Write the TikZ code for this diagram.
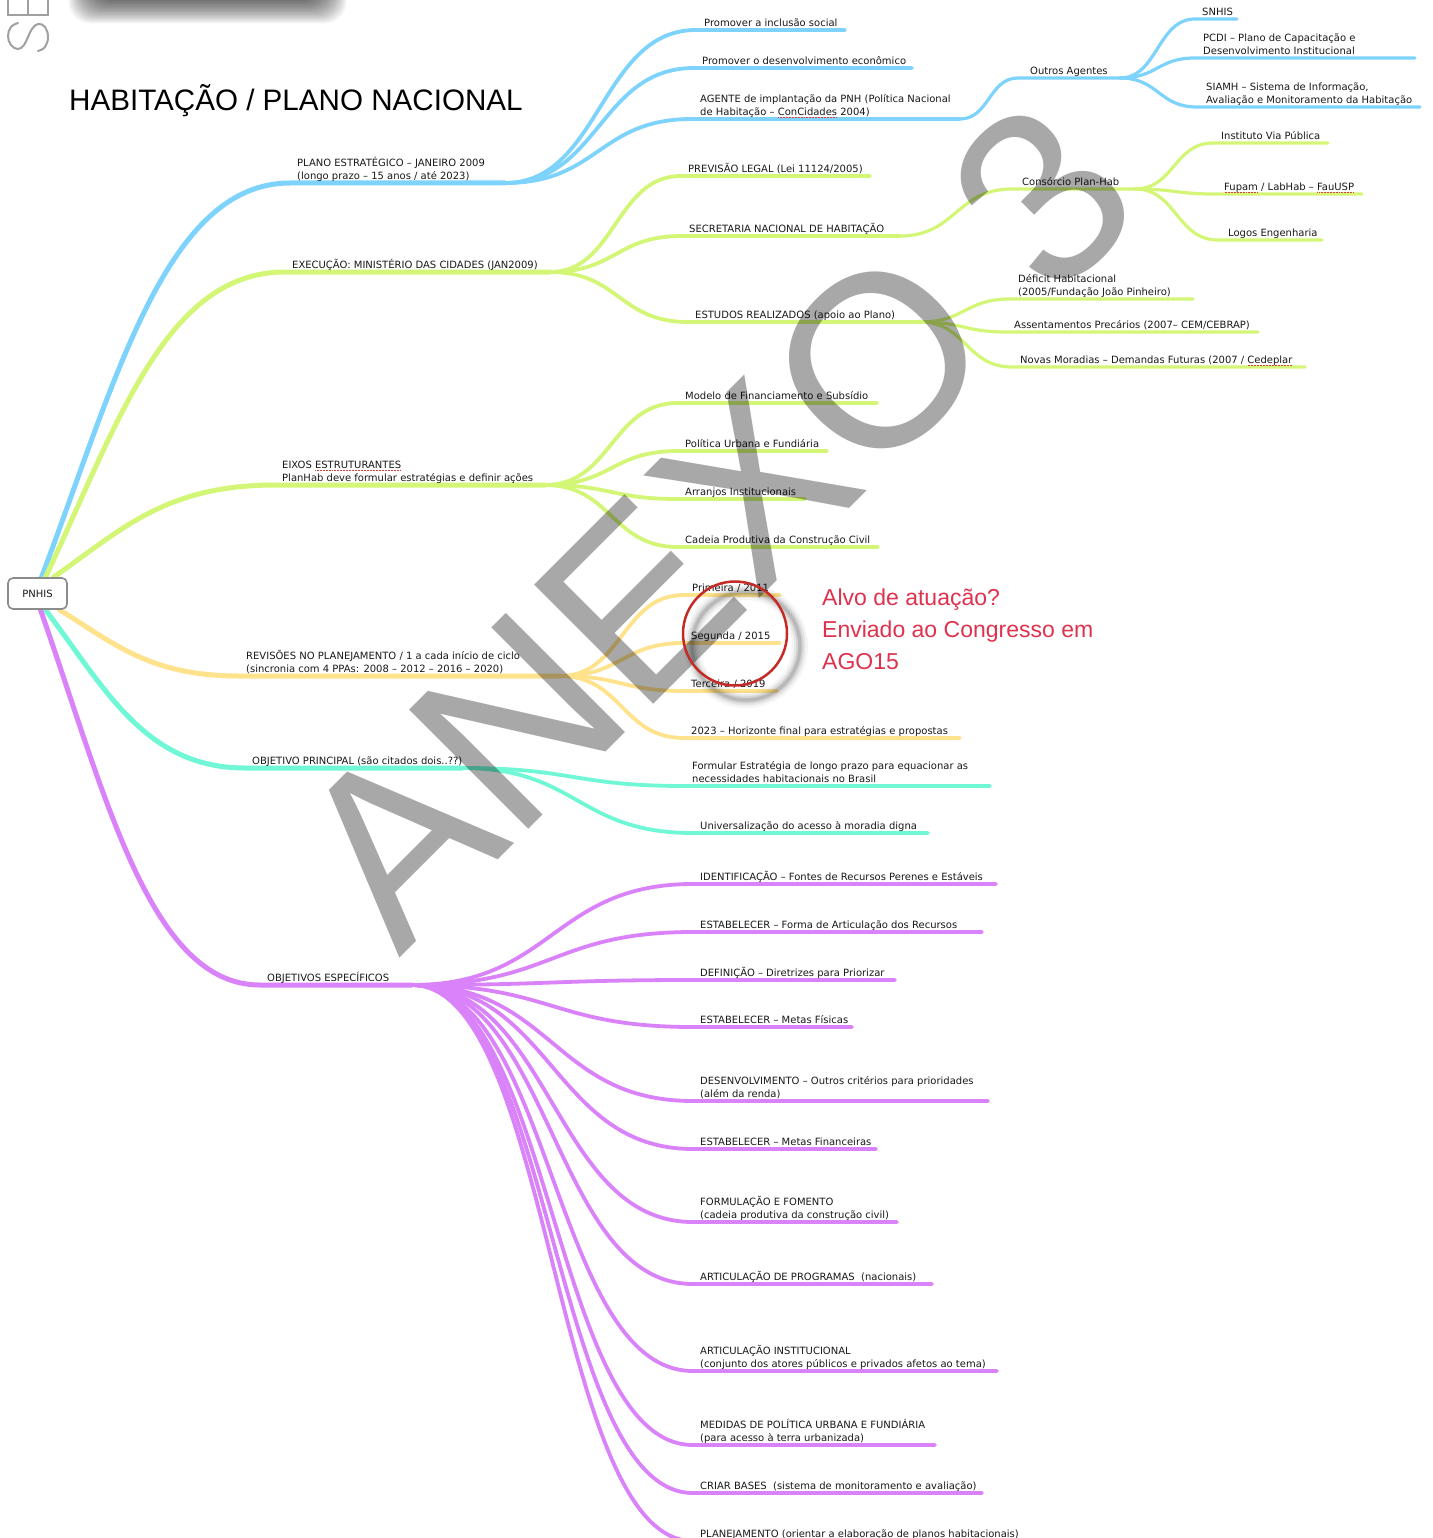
\documentclass[tikz,border=0pt]{standalone}
\usepackage{fontspec}
\setmainfont{DejaVu Sans}
\newfontfamily\helv{Liberation Sans}
\usetikzlibrary{calc,backgrounds}

\definecolor{cblue}{RGB}{125,211,252}
\definecolor{cgreen}{RGB}{212,246,118}
\definecolor{cyellow}{RGB}{255,226,140}
\definecolor{cteal}{RGB}{112,248,214}
\definecolor{cpurple}{RGB}{218,130,250}
\definecolor{ink}{RGB}{25,25,25}
\definecolor{spellred}{RGB}{225,60,60}
\definecolor{notered}{RGB}{222,50,78}
\definecolor{ringred}{RGB}{196,42,38}
\definecolor{framegray}{RGB}{140,140,140}
\definecolor{sidegray}{RGB}{160,160,160}

\newcommand\lblfont{\fontsize{10}{13}\selectfont}

% dotted red mark under a word
\newsavebox\splbox
\newcommand\spl[1]{\sbox\splbox{#1}\leavevmode\rlap{\usebox\splbox}%
  \raisebox{-2.6pt}{\textcolor{spellred}{\hbox to \wd\splbox{\xleaders\hbox to 1.5pt{\hss\rule{0.9pt}{0.9pt}\hss}\hfill}}}}

% topic: name, underline start x, text x, underline end x, underline y, text
\newcommand\mmtopic[6]{%
  \coordinate (#1-a) at (#2,#5);
  \coordinate (#1-b) at (#4,#5);
  \node[lbl] (#1) at (#3,#5+0.3) {#6\strut};}

\begin{document}
\begin{tikzpicture}[x=1pt,y=-1pt,
  lbl/.style={anchor=south west, inner sep=0pt, align=left, font=\lblfont, text=ink},
  rootbox/.style={draw=framegray, line width=1.6pt, fill=white, rounded corners=5pt,
    minimum width=59pt, minimum height=31pt, inner sep=0pt, font=\lblfont, text=ink},
  lv1/.style={line width=5pt, line cap=round},
  lv2/.style={line width=3.8pt, line cap=round},
  lv3/.style={line width=3.2pt, line cap=round},
  sbend/.style={to path={let \p1=(\tikztostart), \p2=(\tikztotarget) in
    .. controls ({(\x1+\x2)/2},\y1) and ({(\x1+\x2)/2},\y2) .. (\tikztotarget)}},
  rbend/.style={to path={let \p1=(\tikztostart), \p2=(\tikztotarget) in
    .. controls ({\x1+0.3*(\x2-\x1)},{\y1+0.5*(\y2-\y1)}) and ({(\x1+\x2)/2},\y2) .. (\tikztotarget)}}
]
\useasboundingbox (0,0) rectangle (1432,1538);

% central node and title
\node[rootbox] (root) at (37.5,593.5) {PNHIS};
\node[anchor=base west, inner sep=0pt, font=\helv\fontsize{29.6}{29.6}\selectfont, text=black]
  (title) at (69,111) {HABITAÇÃO / PLANO NACIONAL};

% strategic plan
\mmtopic{ps}{290}{297}{505}{183}{PLANO ESTRATÉGICO – JANEIRO 2009\\(longo prazo – 15 anos / até 2023)}
\mmtopic{inc}{696}{704}{845}{30}{Promover a inclusão social}
\mmtopic{dev}{694}{702}{912}{68}{Promover o desenvolvimento econômico}
\mmtopic{agt}{692}{700}{960}{119}{AGENTE de implantação da PNH (Política Nacional\\de Habitação – \spl{ConCidades} 2004)}
\mmtopic{out}{1018}{1030}{1120}{78}{Outros Agentes}
\mmtopic{snh}{1195}{1202}{1237}{19}{SNHIS}
\mmtopic{pcd}{1195}{1203}{1415}{58}{PCDI – Plano de Capacitação e\\Desenvolvimento Institucional}
\mmtopic{sia}{1197}{1206}{1420}{107}{SIAMH – Sistema de Informação,\\Avaliação e Monitoramento da Habitação}

% execution
\mmtopic{exe}{285}{292}{550}{272}{EXECUÇÃO: MINISTÉRIO DAS CIDADES (JAN2009)}
\mmtopic{prev}{681}{688}{870}{176}{PREVISÃO LEGAL (Lei 11124/2005)}
\mmtopic{sec}{682}{689}{900}{236}{SECRETARIA NACIONAL DE HABITAÇÃO}
\mmtopic{cons}{1012}{1022}{1135}{189}{Consórcio Plan-Hab}
\mmtopic{ivp}{1213}{1221}{1328}{143}{Instituto Via Pública}
\mmtopic{fup}{1215}{1224}{1362}{194}{\spl{Fupam} / LabHab – \spl{FauUSP}}
\mmtopic{logo}{1218}{1228}{1322}{240}{Logos Engenharia}
\mmtopic{est}{688}{695}{920}{322}{ESTUDOS REALIZADOS (apoio ao Plano)}
\mmtopic{dfc}{1010}{1018}{1193}{299}{Déficit Habitacional\\(2005/Fundação João Pinheiro)}
\mmtopic{ass}{1007}{1014}{1258}{332}{Assentamentos Precários (2007– CEM/CEBRAP)}
\mmtopic{nov}{1012}{1020}{1305}{367}{Novas Moradias – Demandas Futuras (2007 / \spl{Cedeplar}}

% structuring axes
\mmtopic{eix}{275}{282}{545}{485}{EIXOS \spl{ESTRUTURANTES}\\PlanHab deve formular estratégias e definir ações}
\mmtopic{mod}{678}{685}{877}{403}{Modelo de Financiamento e Subsídio}
\mmtopic{pol}{678}{685}{827}{451}{Política Urbana e Fundiária}
\mmtopic{arr}{678}{685}{805}{499}{Arranjos Institucionais}
\mmtopic{cad}{678}{685}{878}{547}{Cadeia Produtiva da Construção Civil}

% revisions
\mmtopic{rev}{239}{246}{560}{676}{REVISÕES NO PLANEJAMENTO / 1 a cada início de ciclo\\(sincronia com 4 PPAs: 2008 – 2012 – 2016 – 2020)}
\mmtopic{pri}{684}{692}{780}{595}{Primeira / 2011}
\mmtopic{seg}{684}{691}{780}{643}{Segunda / 2015}
\mmtopic{ter}{684}{691}{777}{691}{Terceira / 2019}
\mmtopic{hor}{684}{691}{960}{738}{2023 – Horizonte final para estratégias e propostas}

% main objective
\mmtopic{obj}{245}{252}{462}{768}{OBJETIVO PRINCIPAL (são citados dois..??)}
\mmtopic{frm}{685}{692}{990}{786}{Formular Estratégia de longo prazo para equacionar as\\necessidades habitacionais no Brasil}
\mmtopic{uni}{693}{700}{928}{833}{Universalização do acesso à moradia digna}

% specific objectives
\mmtopic{oes}{260}{267}{412}{985}{OBJETIVOS ESPECÍFICOS}
\mmtopic{p1}{693}{700}{996}{884}{IDENTIFICAÇÃO – Fontes de Recursos Perenes e Estáveis}
\mmtopic{p2}{693}{700}{982}{932}{ESTABELECER – Forma de Articulação dos Recursos}
\mmtopic{p3}{693}{700}{895}{980}{DEFINIÇÃO – Diretrizes para Priorizar}
\mmtopic{p4}{693}{700}{852}{1027}{ESTABELECER – Metas Físicas}
\mmtopic{p5}{693}{700}{988}{1101}{DESENVOLVIMENTO – Outros critérios para prioridades\\(além da renda)}
\mmtopic{p6}{693}{700}{876}{1149}{ESTABELECER – Metas Financeiras}
\mmtopic{p7}{693}{700}{897}{1222}{FORMULAÇÃO E FOMENTO\\(cadeia produtiva da construção civil)}
\mmtopic{p8}{693}{700}{932}{1284}{ARTICULAÇÃO DE PROGRAMAS \ (nacionais)}
\mmtopic{p9}{693}{700}{997}{1371}{ARTICULAÇÃO INSTITUCIONAL\\(conjunto dos atores públicos e privados afetos ao tema)}
\mmtopic{p10}{693}{700}{935}{1445}{MEDIDAS DE POLÍTICA URBANA E FUNDIÁRIA\\(para acesso à terra urbanizada)}
\mmtopic{p11}{693}{700}{982}{1493}{CRIAR BASES \ (sistema de monitoramento e avaliação)}
\mmtopic{p12}{693}{700}{1020}{1541}{PLANEJAMENTO (orientar a elaboração de planos habitacionais)}

% branches
\begin{pgfonlayer}{background}
  \fill[white] (0,0) rectangle (1432,1538);
  \draw[cblue,lv1,rbend]   ([xshift=4pt]root.north)  to (ps-a)  -- (ps-b);
  \draw[cgreen,lv1,rbend]  ([xshift=8pt]root.north)  to (exe-a) -- (exe-b);
  \draw[cgreen,lv1,rbend]  ([xshift=16pt]root.north) to (eix-a) -- (eix-b);
  \draw[cyellow,lv1,rbend] ([xshift=22pt]root.south) to (rev-a) -- (rev-b);
  \draw[cteal,lv1,rbend]   ([xshift=8pt]root.south)  to (obj-a) -- (obj-b);
  \draw[cpurple,lv1,rbend] ([xshift=3pt]root.south)  to (oes-a) -- (oes-b);

  \foreach \c in {inc,dev,agt} \draw[cblue,lv2,sbend] (ps-b) to (\c-a) -- (\c-b);
  \draw[cblue,lv3,sbend] (agt-b) to (out-a) -- (out-b);
  \foreach \c in {snh,pcd,sia} \draw[cblue,lv3,sbend] (out-b) to (\c-a) -- (\c-b);

  \foreach \c in {prev,sec,est} \draw[cgreen,lv2,sbend] (exe-b) to (\c-a) -- (\c-b);
  \draw[cgreen,lv3,sbend] (sec-b) to (cons-a) -- (cons-b);
  \foreach \c in {ivp,fup,logo} \draw[cgreen,lv3,sbend] (cons-b) to (\c-a) -- (\c-b);
  \foreach \c in {dfc,ass,nov} \draw[cgreen,lv3,sbend] (est-b) to (\c-a) -- (\c-b);

  \foreach \c in {mod,pol,arr,cad} \draw[cgreen,lv2,sbend] (eix-b) to (\c-a) -- (\c-b);
  \foreach \c in {pri,seg,ter,hor} \draw[cyellow,lv2,sbend] (rev-b) to (\c-a) -- (\c-b);
  \foreach \c in {frm,uni} \draw[cteal,lv2,sbend] (obj-b) to (\c-a) -- (\c-b);
  \foreach \i in {1,...,12} \draw[cpurple,lv2,sbend] (oes-b) to (p\i-a) -- (p\i-b);
\end{pgfonlayer}

% soft shadow of an object above the page
\foreach \i in {0,...,21}
  \fill[black, opacity=0.045, rounded corners=22pt] ({100-1.5*\i},-50) rectangle ({315+1.5*\i},{-6+1.4*\i});

% cut-off vertical lettering at the left edge
\draw[sidegray, line width=2pt] (8,-5) -- (8,15) -- (48,15) -- (48,-5) (28,15) -- (28,-5);
\draw[sidegray, line width=2pt, line cap=round] plot[smooth, tension=0.7] coordinates
  {(18,23) (11,27) (8,36) (11,45) (18,49) (24,45) (28,37) (32,29) (38,24) (45,27) (48,37) (45,47) (38,51)};

% watermark
\node[rotate=45, anchor=base west, inner sep=0pt, font=\helv\fontsize{245}{245}\selectfont,
  text=black, text opacity=0.34] (wm) at (399,959) {ANEXO 3};

% highlighted revision
\coordinate (ringshadow) at (746,646);
\foreach \w/\o in {16/0.04,11/0.06,7/0.08,3.5/0.12}
  \draw[black, opacity=\o, line width=\w pt] (ringshadow) circle[radius=54pt];
\node[circle, draw=ringred, line width=2.5pt, minimum size=104pt, inner sep=0pt] (ring) at (735,633.5) {};
\node[anchor=north west, inner sep=0pt, align=left, font=\helv\fontsize{23}{32}\selectfont, text=notered]
  (note) at (822,583) {\strut Alvo de atuação?\\Enviado ao Congresso em\\AGO15};
\end{tikzpicture}
\end{document}
